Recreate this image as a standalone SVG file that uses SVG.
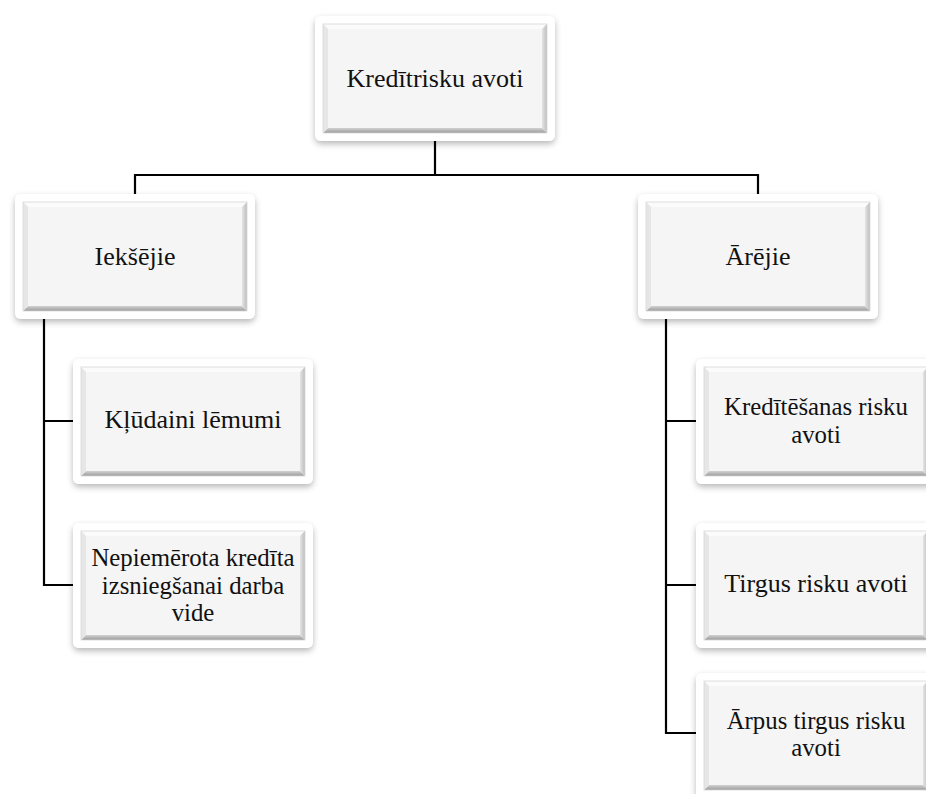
<svg xmlns="http://www.w3.org/2000/svg" xmlns:xlink="http://www.w3.org/1999/xlink" width="926" height="794" viewBox="0 0 926 794">
<style>
.lbl{font-family:"Liberation Serif","Times New Roman",serif;font-size:26px;fill:#111;text-anchor:middle}
.ml{font-size:24.8px}
.conn{stroke:#000;stroke-width:2.2;fill:none;stroke-linecap:square}
</style>
<defs>
<filter id="sh" x="-10%" y="-10%" width="120%" height="130%">
<feDropShadow dx="0" dy="3" stdDeviation="3" flood-color="#000" flood-opacity="0.28"/>
</filter>
<linearGradient id="bot" x1="0" y1="0" x2="0" y2="1"><stop offset="0" stop-color="#d2d2d2"/><stop offset="1" stop-color="#9a9a9a"/></linearGradient>
<linearGradient id="rgt" x1="0" y1="0" x2="1" y2="0"><stop offset="0" stop-color="#e4e4e4"/><stop offset="1" stop-color="#bdbdbd"/></linearGradient>
<g id="box">
<rect x="0" y="0" width="240" height="125" rx="6" fill="#fff" filter="url(#sh)"/>
<rect x="8" y="8" width="224" height="109" fill="#f5f5f5"/>
<polygon points="8,8 232,8 227,13 13,13" fill="#fbfbfb"/>
<polygon points="8,117 232,117 227,112 13,112" fill="url(#bot)"/>
<polygon points="8,8 13,13 13,112 8,117" fill="#e6e6e6"/>
<polygon points="232,8 227,13 227,112 232,117" fill="url(#rgt)"/>
<rect x="8" y="8" width="224" height="109" fill="none" stroke="#d8d8d8" stroke-width="0.8"/>
</g>
</defs>
<g id="connectors">
<path class="conn" d="M435,142 V175 M135,194 V175 H758 V194"/>
<path class="conn" d="M44,320 V585 H73 M44,421 H73"/>
<path class="conn" d="M666,320 V733 H696 M666,421 H696 M666,585 H696"/>
</g>
<g id="n-root"><use xlink:href="#box" x="315" y="16"/><text class="lbl" x="435" y="87">Kredītrisku avoti</text></g>
<g id="n-iek"><use xlink:href="#box" x="15" y="194"/><text class="lbl" x="135" y="265">Iekšējie</text></g>
<g id="n-are"><use xlink:href="#box" x="638" y="194"/><text class="lbl" x="758" y="265">Ārējie</text></g>
<g id="n-klu"><use xlink:href="#box" x="73" y="359"/><text class="lbl" x="193" y="428">Kļūdaini lēmumi</text></g>
<g id="n-nep"><use xlink:href="#box" x="73" y="523"/><text class="lbl ml" x="193" y="566">Nepiemērota kredīta</text><text class="lbl ml" x="193" y="593.5">izsniegšanai darba</text><text class="lbl ml" x="193" y="621">vide</text></g>
<g id="n-kred"><use xlink:href="#box" x="696" y="359"/><text class="lbl ml" x="816" y="415">Kredītēšanas risku</text><text class="lbl ml" x="816" y="442.5">avoti</text></g>
<g id="n-tir"><use xlink:href="#box" x="696" y="523"/><text class="lbl" x="816" y="592">Tirgus risku avoti</text></g>
<g id="n-arp"><use xlink:href="#box" x="696" y="673"/><text class="lbl ml" x="816" y="728.5">Ārpus tirgus risku</text><text class="lbl ml" x="816" y="756">avoti</text></g>
</svg>
